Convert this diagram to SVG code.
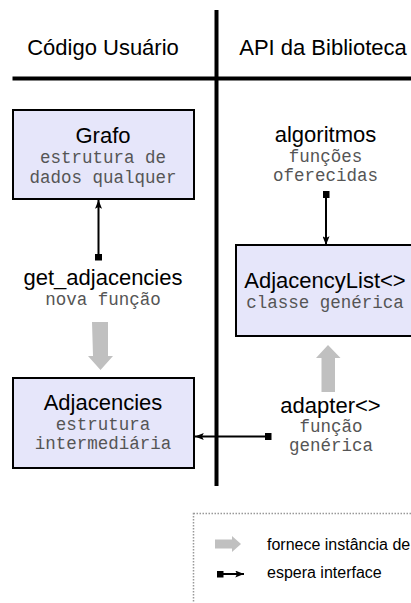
<svg xmlns="http://www.w3.org/2000/svg" width="411" height="603" viewBox="0 0 411 603">
<style>
.hdr{font-family:"Liberation Sans",Arial,sans-serif;font-size:22px;fill:#000;text-anchor:middle}
.ttl{font-family:"Liberation Sans",Arial,sans-serif;font-size:22px;fill:#000;text-anchor:middle}
.sub{font-family:"Liberation Mono","Courier New",monospace;font-size:17.5px;fill:#555;text-anchor:middle}
.box{fill:#e6e6fa;stroke:#000;stroke-width:2}
.conn{stroke:#000;stroke-width:2;fill:none;marker-start:url(#sq);marker-end:url(#ah)}
.prov{fill:#c0c0c0}
.leg{font-family:"Liberation Sans",Arial,sans-serif;font-size:16px;fill:#000}
.rule{stroke:#000;stroke-width:4}
</style>
<defs>
<marker id="ah" markerUnits="userSpaceOnUse" viewBox="0 0 10 8" refX="10" refY="4" markerWidth="10" markerHeight="7" orient="auto">
<path d="M0,0 L10,4 L0,8 L2,4 Z" fill="#000"/>
</marker>
<marker id="sq" markerUnits="userSpaceOnUse" viewBox="0 0 7 7" refX="3.5" refY="3.5" markerWidth="7" markerHeight="7" orient="auto">
<rect x="0" y="0" width="7" height="7" fill="#000"/>
</marker>
</defs>

<g id="dividers">
<line class="rule" x1="216.5" y1="10" x2="216.5" y2="486"/>
<line class="rule" x1="12.5" y1="78.5" x2="411" y2="78.5"/>
</g>
<g id="headers">
<text class="hdr" x="103" y="55">Código Usuário</text>
<text class="hdr" x="323" y="55">API da Biblioteca</text>
</g>

<g id="connectors">
<line class="conn" x1="98.5" y1="257" x2="98.5" y2="200"/>
<line class="conn" x1="326" y1="194.5" x2="326" y2="245"/>
<line class="conn" x1="268" y1="436.5" x2="195" y2="436.5"/>
<path class="prov" d="M92,322 H108 V356 H113 L100.5,370 L88,356 H93 Z"/>
<path class="prov" d="M321.5,392 H335 V358 H340.5 L328,345 L316,358 H321.5 Z"/>
</g>

<g id="grafo">
<rect class="box" x="13" y="110" width="181" height="89"/>
<text class="ttl" x="103" y="143">Grafo</text>
<text class="sub" x="103" y="163">estrutura de</text>
<text class="sub" x="103" y="182.5">dados qualquer</text>
</g>

<g id="get_adjacencies">
<text class="ttl" x="103" y="285">get_adjacencies</text>
<text class="sub" x="103" y="305">nova função</text>
</g>

<g id="adjacencies">
<rect class="box" x="13" y="378" width="181" height="90"/>
<text class="ttl" x="103" y="410">Adjacencies</text>
<text class="sub" x="103" y="430">estrutura</text>
<text class="sub" x="103" y="449">intermediária</text>
</g>

<g id="algoritmos">
<text class="ttl" x="325.5" y="142">algoritmos</text>
<text class="sub" x="325.5" y="162">funções</text>
<text class="sub" x="325.5" y="181">oferecidas</text>
</g>

<g id="adjacencylist">
<rect class="box" x="236" y="245" width="185" height="91"/>
<text class="ttl" x="325" y="288">AdjacencyList&lt;&gt;</text>
<text class="sub" x="325" y="308">classe genérica</text>
</g>

<g id="adapter">
<text class="ttl" x="330.5" y="413">adapter&lt;&gt;</text>
<text class="sub" x="331" y="432">função</text>
<text class="sub" x="331" y="451">genérica</text>
</g>

<g id="legend">
<rect x="193.5" y="513.5" width="240" height="110" fill="none" stroke="#999" stroke-width="1.5" stroke-dasharray="1.5,1.5"/>
<path class="prov" d="M215,539.5 H232 V536 L241,544 L232,552 V548.5 H215 Z"/>
<text class="leg" x="267" y="549.5">fornece instância de</text>
<line class="conn" x1="220" y1="574" x2="244" y2="574"/>
<text class="leg" x="267" y="578">espera interface</text>
</g>
</svg>
